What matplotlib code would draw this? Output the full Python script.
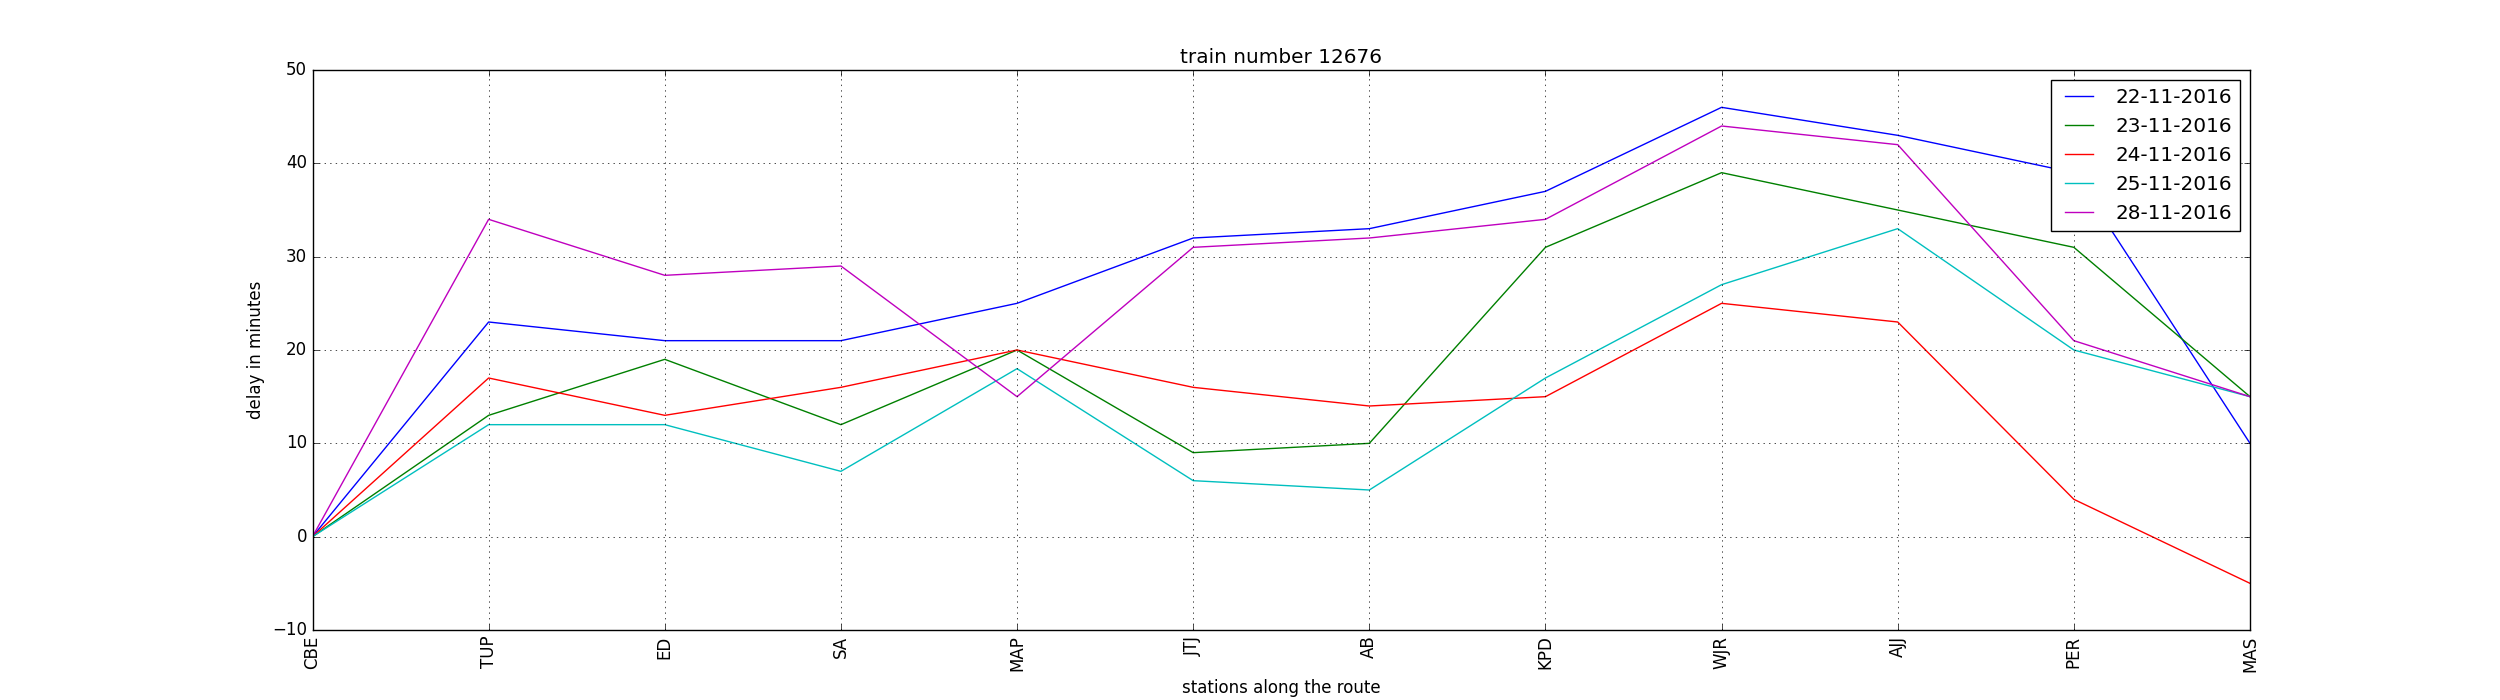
import matplotlib
matplotlib.use("Agg")
import matplotlib.pyplot as plt

plt.style.use("classic")

stations = ["CBE", "TUP", "ED", "SA", "MAP", "JTJ", "AB", "KPD", "WJR", "AJJ", "PER", "MAS"]
dates = ["22-11-2016", "23-11-2016", "24-11-2016", "25-11-2016", "28-11-2016"]
d22 = [0, 23, 21, 21, 25, 32, 33, 37, 46, 43, 39, 10]
d23 = [0, 13, 19, 12, 20, 9, 10, 31, 39, 35, 31, 15]
d24 = [0, 17, 13, 16, 20, 16, 14, 15, 25, 23, 4, -5]
d25 = [0, 12, 12, 7, 18, 6, 5, 17, 27, 33, 20, 15]
d28 = [0, 34, 28, 29, 15, 31, 32, 34, 44, 42, 21, 15]

fig = plt.figure(figsize=(25, 7), dpi=100, facecolor="white")
ax = fig.add_subplot(111)
x = range(len(stations))
for vals, lab in zip([d22, d23, d24, d25, d28], dates):
    ax.plot(x, vals, label=lab)

ax.set_xticks(list(x))
ax.set_xticklabels(stations, rotation="vertical")
ax.set_xlim(0, len(stations) - 1)
ax.set_ylim(-10, 50)
ax.grid(True)
ax.set_title("train number 12676")
ax.set_xlabel("stations along the route")
ax.set_ylabel("delay in minutes")
ax.legend(loc="upper right")
fig.savefig("out.png", dpi=100, facecolor="white")
